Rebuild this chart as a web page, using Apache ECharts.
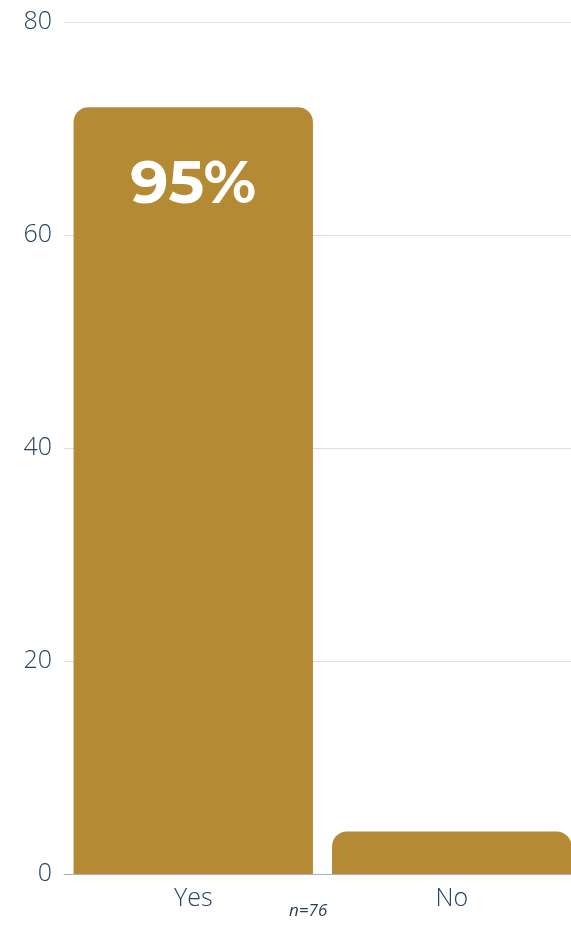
<!DOCTYPE html>
<html>
<head>
<meta charset="utf-8">
<script src="https://cdn.jsdelivr.net/npm/echarts@6/dist/echarts.min.js"></script>
<style>
html,body{margin:0;padding:0;background:#fff;overflow:hidden;width:571px;height:928px;}
#c{width:581px;height:928px;}
</style>
</head>
<body>
<div id="c"></div>
<script>
var categories = ['Yes', 'No'];
var values = [72, 4];
var barLabels = ['95%', ''];
var yTicks = [0, 20, 40, 60, 80];
var note = 'n=76';

var chart = echarts.init(document.getElementById('c'), null, {renderer: 'canvas'});
chart.setOption({
  animation: false,
  grid: {left: 64, right: 0, top: 22, bottom: 54, containLabel: false},
  xAxis: {
    type: 'category',
    data: categories,
    axisLine: {show: true, lineStyle: {color: '#aab4c0', width: 1}},
    axisTick: {show: false},
    axisLabel: {color: '#28445f', fontFamily: 'Open Sans', fontWeight: 300, fontSize: 25, margin: 12}
  },
  yAxis: {
    type: 'value',
    min: yTicks[0],
    max: yTicks[yTicks.length - 1],
    interval: 20,
    axisLine: {show: false},
    axisTick: {show: false},
    splitLine: {lineStyle: {color: '#d9dee4', width: 1}},
    axisLabel: {color: '#28445f', fontFamily: 'Open Sans', fontWeight: 300, fontSize: 25, margin: 12}
  },
  series: [{
    type: 'bar',
    data: values.map(function (v, i) {
      return {value: v, label: {show: !!barLabels[i], formatter: barLabels[i]}};
    }),
    barCategoryGap: '7.4%',
    itemStyle: {color: '#b48a35', borderRadius: [15, 15, 0, 0]},
    label: {
      position: 'insideTop',
      distance: 48,
      color: '#ffffff',
      fontFamily: 'Montserrat, Lato, Inter, sans-serif',
      fontWeight: 'bold',
      fontSize: 60
    }
  }],
  graphic: [{
    type: 'text',
    left: 289,
    top: 903,
    style: {text: note, fill: '#2c3e50', font: 'italic 17px "Open Sans"'}
  }]
});
</script>
</body>
</html>
